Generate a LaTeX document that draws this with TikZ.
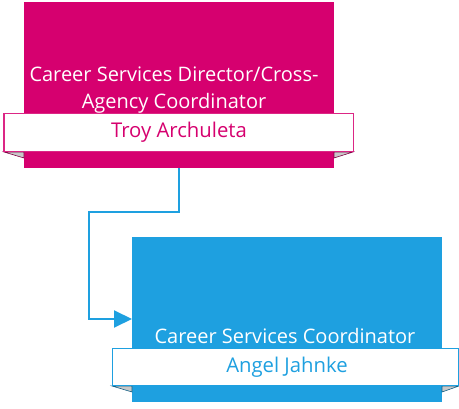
\documentclass[tikz,border=0pt]{standalone}
\usepackage{fontspec}
\setmainfont{Open Sans}
\usetikzlibrary{arrows.meta}
\definecolor{mag}{RGB}{214,0,111}
\definecolor{sky}{RGB}{30,160,224}
\definecolor{foldgray}{RGB}{200,200,200}
\begin{document}
\begin{tikzpicture}[x=1pt,y=-1pt,
  banner/.style={draw=#1,fill=white,line width=1pt},
  fold/.style={fill=foldgray,draw=#1!60!black,line width=0.6pt},
  ttltext/.style={text=white,font=\fontsize{20}{27}\selectfont,align=center,inner sep=0pt,anchor=base},
  persontext/.style={text=#1,font=\fontsize{20.3}{22}\selectfont,inner sep=0pt,anchor=base},
  conn/.style={draw=sky,line width=2pt},
  tip/.style={-{Triangle[length=18pt,width=17pt]}}
]
\useasboundingbox (0,0) rectangle (459,409);
% top box
\fill[mag] (24,2) rectangle (334,168);
\coordinate (topbot) at (179,168);
\draw[fold=mag] (4,152) -- (24,152) -- (24,158) -- cycle;
\draw[fold=mag] (353,152) -- (334,152) -- (334,158) -- cycle;
\draw[banner=mag!85!white] (4,114) rectangle (353,152);
\node[ttltext] (t1) at (174,109) {Career Services Director/Cross-\\Agency Coordinator};
\node[persontext=mag] (n1) at (179,138) {Troy Archuleta};
% bottom box
\fill[sky] (132,237) rectangle (442,402);
\coordinate (botleft) at (132,319);
\draw[fold=sky] (112,386) -- (132,386) -- (132,392) -- cycle;
\draw[fold=sky] (459,386) -- (442,386) -- (442,392) -- cycle;
\draw[banner=sky] (112,349) rectangle (458.5,386);
\node[ttltext] (t2) at (285,344) {Career Services Coordinator};
\node[persontext=sky] (n2) at (287,373) {Angel Jahnke};
% connector
\draw[conn,tip] (topbot) -- (179,212) -- (89,212) -- (89,319) -- (botleft);
\end{tikzpicture}
\end{document}
